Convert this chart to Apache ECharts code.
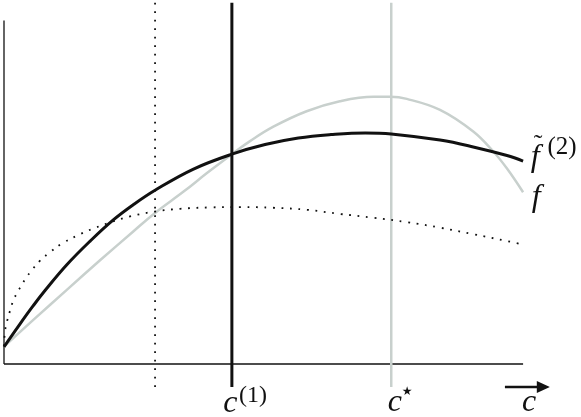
<!DOCTYPE html>
<html>
<head>
<meta charset="utf-8">
<script src="https://cdn.jsdelivr.net/npm/echarts@6/dist/echarts.min.js"></script>
<style>
    html,body{margin:0;padding:0;background:#fff;}
    #chart{width:581px;height:417px;}
</style>
</head>
<body>
<div id="chart"></div>
<script>
// true objective f (grey)
var fX=[0,5.7,12.1,18.5,24.9,29.1,34.6,39.1,43.9,47.4,51.9,58.3,64.7,71.2,74.4,77.6,84.0,90.4,94.3,96.9,100];
var fY=[5.1,12.9,21.6,30.2,38.6,44.0,50.2,55.6,61.1,64.9,69.1,73.6,76.5,77.8,77.8,77.2,74.0,67.7,61.8,56.9,50.0];
// surrogate f~(2) (black)
var f2X=[0,3.1,5.6,7.9,12.1,16.6,21.0,25.1,29.1,36.4,43.9,50.3,56.7,63.0,69.6,74.6,84.0,90.4,96.9,100];
var f2Y=[5.0,11.7,16.9,21.4,28.9,35.8,41.9,46.6,50.6,56.7,61.1,63.9,65.8,66.8,67.3,67.0,65.2,63.2,60.7,59.1];
// first surrogate (dotted)
var dotX=[0,0.2,0.6,1.2,1.7,2.5,3.3,4.2,5.4,6.9,8.9,11.2,14.1,17.3,20.8,24.3,29.1,33.9,39.7,45.5,51.8,58.4,64.7,71.1,77.7,84.0,90.4,96.9,100];
var dotY=[5.2,9.6,12.5,15.7,18.1,20.7,22.7,25.0,27.4,30.0,32.6,35.1,37.4,39.5,41.4,43.0,44.4,45.2,45.6,45.7,45.5,44.9,43.7,42.6,41.3,39.7,37.8,35.8,34.8];
// vertical markers
var cZero=29.1, cOne=43.9, cStar=74.6;
var axisEnd=100, markTop=105.2, markBottom=-6.7;

var GREY='#c8d0cd', INK='#111';
var SERIF='Liberation Serif';

function zip(xs,ys){
    var out=[];
    xs.forEach(function(x,i){ out.push([x,ys[i]]); });
    return out;
}
function vline(x){ return [[x,markBottom],[x,markTop]]; }
function plain(data,color,width,dash){
    return {
        type:'line', data:data, symbol:'none', silent:true, animation:false,
        clip:false,
        lineStyle:{color:color,width:width,type:dash||'solid',cap:'butt'}
    };
}
function curve(s){ s.smooth=0.4; return s; }

var chart=echarts.init(document.getElementById('chart'));
var option={
    animation:false,
    grid:{left:4,right:6,top:0,bottom:1.5},
    xAxis:{type:'value',min:0,max:110,show:false},
    yAxis:{type:'value',min:-15,max:106,show:false},
    series:[
        plain([[0,0],[0,100]],INK,1.3),
        plain([[0,0],[axisEnd,0]],INK,1.3),
        plain(vline(cZero),INK,1.8,[1.8,6.7]),
        plain(vline(cStar),GREY,2.5),
        curve(plain(zip(fX,fY),GREY,2.5)),
        curve(plain(zip(dotX,dotY),INK,1.8,[1.8,6.7])),
        curve(plain(zip(f2X,f2Y),INK,3)),
        plain(vline(cOne),INK,3),
        {
            type:'line', silent:true, animation:false, clip:false,
            lineStyle:{color:INK,width:2.6},
            data:[
                {value:[96.5,markBottom],symbol:'none'},
                {value:[103.9,markBottom],symbol:'triangle',symbolRotate:-90,symbolSize:[12,13],itemStyle:{color:INK}}
            ]
        }
    ]
};
chart.setOption(option);

// math labels placed from the data positions
function at(x,y){ return chart.convertToPixel({gridIndex:0},[x,y]); }
function txt(text,p,dx,dy,size,family,italic){
    return {
        type:'text', x:p[0]+dx, y:p[1]+dy, silent:true,
        style:{
            text:text, fill:INK, align:'center', verticalAlign:'middle',
            fontSize:size, fontFamily:family, fontStyle:italic?'italic':'normal'
        }
    };
}
var pOne=at(cOne,0), pStar=at(cStar,0), pEnd=at(axisEnd,0);
var pF2=at(f2X[f2X.length-1],f2Y[f2Y.length-1]);
var pF=at(fX[fX.length-1],fY[fY.length-1]);
chart.setOption({graphic:[
    txt('c',pOne,-1.5,39.5,32,SERIF,true),
    txt('(1)',pOne,21,31.5,24,SERIF,false),
    txt('c',pStar,3.5,39,32,SERIF,true),
    txt('\u2605',pStar,16,28,12,'DejaVu Sans',false),
    txt('c',pEnd,6,39,32,SERIF,true),
    txt('f',pF2,12,-3,32,SERIF,true),
    txt('\u02DC',pF2,15,-16,26,SERIF,false),
    txt('(2)',pF2,39,-14,25,SERIF,false),
    txt('f',pF,13,5,32,SERIF,true)
]});
</script>
</body>
</html>
